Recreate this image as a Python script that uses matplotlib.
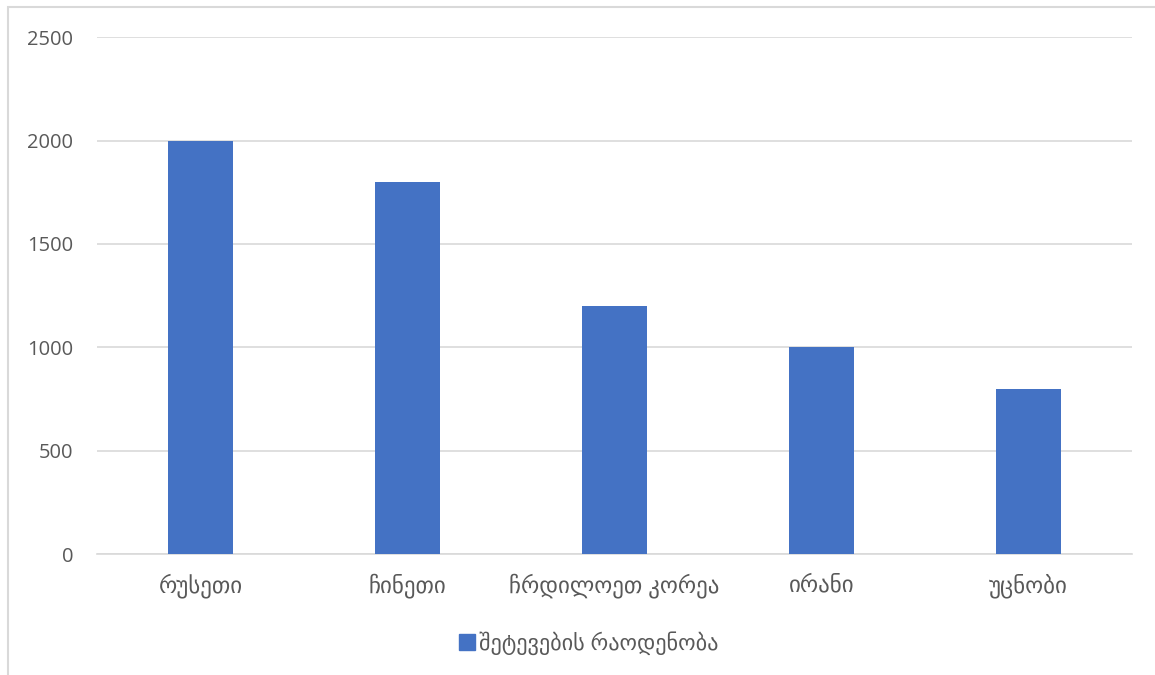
import matplotlib
matplotlib.use('Agg')
import matplotlib.pyplot as plt
from matplotlib.patches import Rectangle, Patch

plt.rcParams['font.family'] = ['Open Sans', 'DejaVu Sans']

countries = ['რუსეთი', 'ჩინეთი', 'ჩრდილოეთ კორეა', 'ირანი', 'უცნობი']
attacks = [2000, 1800, 1200, 1000, 800]
series_name = 'შეტევების რაოდენობა'
yticks = [0, 500, 1000, 1500, 2000, 2500]

bar_color = '#4472C4'
text_color = '#595959'
grid_color = '#D9D9D9'

fig = plt.figure(figsize=(11.55, 6.75), dpi=100)
ax = fig.add_axes([0.084, 0.179, 0.896, 0.766])

# chart frame (Excel style, cut at right/bottom)
fig.patches.append(Rectangle((8 / 1155, -0.1), 1.2, (675 - 7) / 675 + 0.1,
                             transform=fig.transFigure, fill=False,
                             edgecolor=grid_color, linewidth=1.5))

x = range(len(countries))
ax.bar(x, attacks, width=0.315, color=bar_color, zorder=3)

ax.set_xlim(-0.5, len(countries) - 0.5)
ax.set_ylim(0, 2500)
ax.set_yticks(yticks)
ax.set_yticklabels([str(t) for t in yticks], fontsize=14.5)
ax.set_xticks(list(x))
ax.set_xticklabels(countries, fontsize=16.5)

ax.yaxis.grid(True, color=grid_color, linewidth=1.2, zorder=0)
ax.set_axisbelow(True)
for s in ['top', 'right', 'left']:
    ax.spines[s].set_visible(False)
ax.spines['bottom'].set_color(grid_color)
ax.spines['bottom'].set_linewidth(1.2)

ax.tick_params(axis='both', length=0, colors=text_color)
ax.tick_params(axis='y', pad=17)
ax.tick_params(axis='x', pad=14)

fig.legend(handles=[Patch(color=bar_color, label=series_name)],
           loc='center', bbox_to_anchor=(0.51, 0.047), frameon=False,
           fontsize=16, labelcolor=text_color, handlelength=0.7,
           handleheight=0.7, handletextpad=0.2)

fig.savefig('out.png', dpi=100)
